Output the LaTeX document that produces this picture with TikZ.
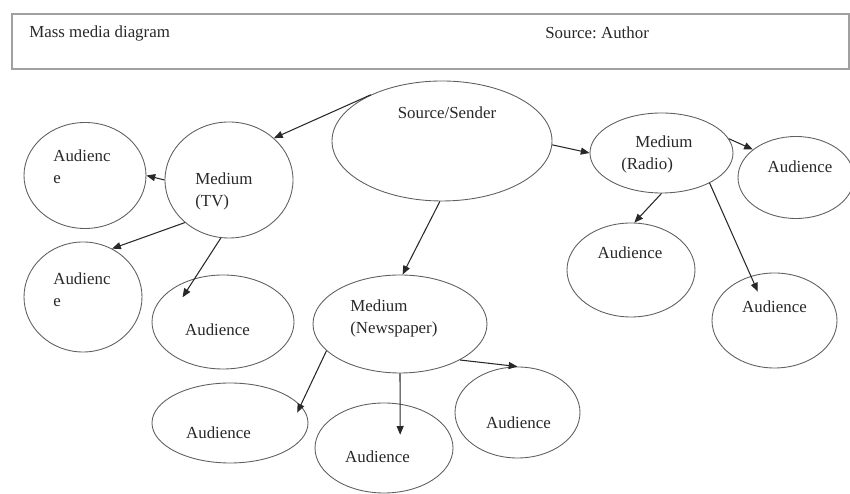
\documentclass[tikz,border=0pt]{standalone}
\usepackage{fontspec}
\setmainfont{Liberation Serif}
\usepackage{tikz}
\usetikzlibrary{shapes.geometric,arrows.meta}
\definecolor{inkgrey}{RGB}{40,40,40}
\definecolor{rimgrey}{RGB}{95,95,95}
\definecolor{framegrey}{RGB}{160,160,160}
\frenchspacing

\begin{document}
\begin{tikzpicture}[
    oval/.style={ellipse, draw=rimgrey, line width=0.5pt, inner sep=0pt},
    lbl/.style={font=\fontsize{9.6}{12.5}\selectfont, text=inkgrey, inner sep=0pt, align=left},
    arr/.style={-{Triangle[length=5pt,width=4pt]}, draw=inkgrey, line width=0.6pt}
]
\useasboundingbox (0,0) rectangle (17,9.88);

% header
\node[draw=framegrey, line width=1.1pt, minimum width=16.74cm, minimum height=1.1cm] (hdr) at (8.61,9.05) {};
\node[lbl, anchor=west] (title) at (0.58,9.22) {Mass media diagram};
\node[lbl, anchor=west] (credit) at (10.9,9.22) {Source: Author};

% source and media
\node[oval, minimum width=4.4cm, minimum height=2.4cm] (src) at (8.84,7.06) {};
\node[lbl] at (8.94,7.62) {Source/Sender};
\node[oval, minimum width=2.56cm, minimum height=2.32cm] (tv) at (4.58,6.28) {};
\node[lbl, anchor=west] at (3.9,6.05) {Medium\\(TV)};
\node[oval, minimum width=3.48cm, minimum height=1.96cm] (np) at (8.0,3.4) {};
\node[lbl, anchor=west] at (7.0,3.51) {Medium\\(Newspaper)};
\node[oval, minimum width=2.86cm, minimum height=1.6cm] (radio) at (13.23,6.82) {};
\node[lbl, anchor=west] at (12.42,6.79) {\hspace*{0.28cm}Medium\\(Radio)};

% audiences of TV
\node[oval, minimum width=2.44cm, minimum height=2.12cm] (tvA) at (1.7,6.37) {};
\node[lbl, anchor=west] at (1.06,6.55) {Audienc\\e};
\node[oval, minimum width=2.36cm, minimum height=2.2cm] (tvB) at (1.66,3.94) {};
\node[lbl, anchor=west] at (1.06,4.08) {Audienc\\e};
\node[oval, minimum width=2.84cm, minimum height=1.88cm] (tvC) at (4.46,3.44) {};
\node[lbl] at (4.35,3.28) {Audience};

% audiences of newspaper
\node[oval, minimum width=3.12cm, minimum height=1.6cm] (npA) at (4.6,1.42) {};
\node[lbl] at (4.37,1.22) {Audience};
\node[oval, minimum width=2.76cm, minimum height=1.8cm] (npB) at (7.68,0.92) {};
\node[lbl] at (7.55,0.74) {Audience};
\node[oval, minimum width=2.5cm, minimum height=1.82cm] (npC) at (10.35,1.63) {};
\node[lbl] at (10.37,1.42) {Audience};

% audiences of radio
\node[oval, minimum width=2.32cm, minimum height=1.64cm] (rdA) at (15.92,6.33) {};
\node[lbl] at (16.0,6.54) {Audience};
\node[oval, minimum width=2.56cm, minimum height=1.88cm] (rdB) at (12.62,4.48) {};
\node[lbl] at (12.6,4.82) {Audience};
\node[oval, minimum width=2.5cm, minimum height=1.9cm] (rdC) at (15.49,3.47) {};
\node[lbl] at (15.49,3.74) {Audience};

% connectors
\draw[arr] (src.147) -- (tv.43);
\draw[arr] (src.-2) -- (radio.west);
\draw[arr] (src.268) -- (np.87);
\draw[arr] (tv.west) -- (tvA.east);
\draw[arr] (tv.224) -- (tvB.59);
\draw[arr, shorten >=-0.45cm] (tv.262) -- (tvC.123);
\draw[arr, shorten >=-0.16cm] (np.200) -- (npA.14);
\draw[arr, shorten >=-0.62cm] (np.south) -- (npB.70);
\draw[arr] (np.329) -- (npC.north);
\draw[arr] (radio.12) -- (rdA.147);
\draw[arr] (radio.270) -- (rdB.86);
\draw[arr, shorten >=-0.34cm] (radio.328) -- (rdC.118);
\end{tikzpicture}
\end{document}
